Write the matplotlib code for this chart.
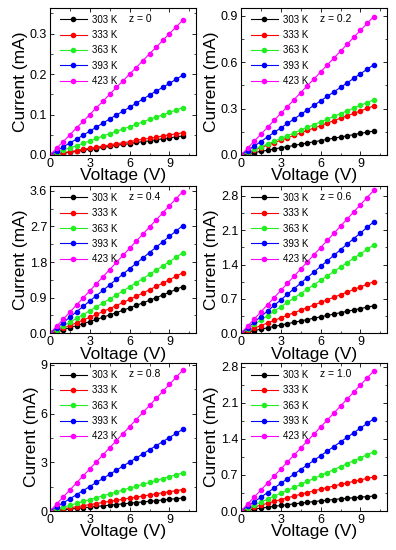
import matplotlib
matplotlib.use("Agg")
from matplotlib import pyplot as plt
from matplotlib.ticker import MultipleLocator, FormatStrFormatter

plt.rcParams['font.family'] = ['Liberation Sans', 'DejaVu Sans']

voltage = [0, 0.5, 1, 1.5, 2, 2.5, 3, 3.5, 4, 4.5, 5, 5.5, 6, 6.5, 7, 7.5, 8, 8.5, 9, 9.5, 10]
temps = ["303 K", "333 K", "363 K", "393 K", "423 K"]
colors = ["black", "red", "#22ee22", "blue", "magenta"]

# z = 0
z00 = [
    [0, .002, .005, .007, .009, .012, .014, .016, .019, .021, .024, .026, .028, .031, .033, .035, .038, .040, .042, .045, .047],
    [0, .003, .006, .008, .011, .014, .017, .019, .022, .025, .028, .030, .033, .036, .039, .041, .044, .047, .050, .052, .055],
    [0, .006, .012, .018, .023, .029, .035, .041, .047, .053, .059, .064, .070, .076, .082, .088, .094, .099, .105, .111, .117],
    [0, .010, .020, .030, .039, .049, .059, .069, .079, .089, .099, .108, .118, .128, .138, .148, .158, .167, .177, .187, .197],
    [0, .017, .033, .050, .067, .083, .100, .117, .133, .150, .167, .183, .200, .216, .233, .250, .266, .283, .300, .316, .333],
]
# z = 0.2
z02 = [
    [0, .008, .016, .023, .031, .039, .047, .054, .062, .070, .078, .085, .093, .101, .109, .116, .124, .132, .140, .147, .155],
    [0, .016, .032, .048, .063, .079, .095, .111, .127, .143, .159, .174, .190, .206, .222, .238, .254, .269, .285, .301, .317],
    [0, .018, .036, .054, .071, .089, .107, .125, .143, .161, .179, .196, .214, .232, .250, .268, .286, .303, .321, .339, .357],
    [0, .029, .058, .087, .117, .146, .175, .204, .233, .262, .292, .321, .350, .379, .408, .437, .466, .496, .525, .554, .583],
    [0, .045, .090, .134, .179, .224, .269, .313, .358, .403, .448, .492, .537, .582, .627, .671, .716, .761, .806, .850, .895],
]
# z = 0.4
z04 = [
    [0, .046, .093, .142, .192, .244, .297, .351, .407, .464, .522, .582, .643, .705, .769, .834, .900, .968, 1.037, 1.108, 1.18],
    [0, .064, .130, .197, .265, .335, .405, .477, .551, .625, .701, .778, .857, .936, 1.017, 1.100, 1.183, 1.268, 1.354, 1.441, 1.53],
    [0, .093, .186, .281, .377, .473, .570, .669, .768, .868, .969, 1.071, 1.174, 1.278, 1.382, 1.488, 1.595, 1.702, 1.810, 1.920, 2.03],
    [0, .136, .272, .408, .544, .680, .816, .952, 1.088, 1.224, 1.360, 1.496, 1.632, 1.768, 1.904, 2.040, 2.176, 2.312, 2.448, 2.584, 2.72],
    [0, .179, .358, .537, .716, .895, 1.074, 1.253, 1.432, 1.611, 1.790, 1.969, 2.148, 2.327, 2.506, 2.685, 2.864, 3.043, 3.222, 3.401, 3.58],
]
# z = 0.6
z06 = [
    [0, .028, .056, .084, .112, .140, .168, .196, .224, .252, .280, .308, .336, .364, .392, .420, .448, .476, .504, .532, .56],
    [0, .053, .105, .158, .210, .263, .315, .368, .420, .473, .525, .578, .630, .683, .735, .788, .840, .893, .945, .998, 1.05],
    [0, .09, .18, .27, .36, .45, .54, .63, .72, .81, .90, .99, 1.08, 1.17, 1.26, 1.35, 1.44, 1.53, 1.62, 1.71, 1.80],
    [0, .114, .227, .341, .454, .568, .681, .795, .908, 1.022, 1.135, 1.249, 1.362, 1.476, 1.589, 1.703, 1.816, 1.930, 2.043, 2.157, 2.27],
    [0, .146, .291, .437, .582, .728, .873, 1.019, 1.164, 1.310, 1.455, 1.601, 1.746, 1.892, 2.037, 2.183, 2.328, 2.474, 2.619, 2.765, 2.91],
]
# z = 0.8
z08 = [
    [0, .04, .08, .12, .16, .20, .24, .28, .32, .36, .40, .44, .48, .52, .56, .60, .64, .68, .72, .76, .80],
    [0, .066, .132, .198, .264, .330, .396, .462, .528, .594, .660, .726, .792, .858, .924, .990, 1.056, 1.122, 1.188, 1.254, 1.32],
    [0, .118, .235, .353, .470, .588, .705, .823, .940, 1.058, 1.175, 1.293, 1.410, 1.528, 1.645, 1.763, 1.880, 1.998, 2.115, 2.233, 2.35],
    [0, .252, .503, .755, 1.006, 1.258, 1.509, 1.761, 2.012, 2.264, 2.515, 2.767, 3.018, 3.270, 3.521, 3.773, 4.024, 4.276, 4.527, 4.779, 5.03],
    [0, .434, .867, 1.301, 1.734, 2.168, 2.601, 3.035, 3.468, 3.902, 4.335, 4.769, 5.202, 5.636, 6.069, 6.503, 6.936, 7.370, 7.803, 8.237, 8.67],
]
# z = 1.0
z10 = [
    [0, .019, .038, .056, .073, .091, .107, .123, .139, .154, .169, .183, .197, .210, .223, .236, .247, .259, .270, .280, .29],
    [0, .039, .076, .114, .151, .187, .222, .257, .292, .326, .359, .392, .424, .455, .486, .517, .547, .576, .605, .633, .66],
    [0, .058, .115, .173, .230, .288, .345, .403, .460, .518, .575, .633, .690, .748, .805, .863, .920, .978, 1.035, 1.093, 1.15],
    [0, .090, .179, .269, .358, .448, .537, .627, .716, .806, .895, .985, 1.074, 1.164, 1.253, 1.343, 1.432, 1.522, 1.611, 1.701, 1.79],
    [0, .136, .272, .408, .544, .680, .816, .952, 1.088, 1.224, 1.360, 1.496, 1.632, 1.768, 1.904, 2.040, 2.176, 2.312, 2.448, 2.584, 2.72],
]

panels = [
    ("z = 0", z00, 0.363, 0.1, "%.1f"),
    ("z = 0.2", z02, 0.95, 0.3, "%.1f"),
    ("z = 0.4", z04, 3.72, 0.9, "%.1f"),
    ("z = 0.6", z06, 3.0, 0.7, "%.1f"),
    ("z = 0.8", z08, 9.1, 3, "%d"),
    ("z = 1.0", z10, 2.87, 0.7, "%.1f"),
]

W, H = 396, 550
fig = plt.figure(figsize=(W / 100, H / 100), dpi=100)
lefts = [50, 241]
rows = [(8, 155), (186, 333.3), (363.3, 511)]

for i, (ztxt, data, ymax, step, fmt) in enumerate(panels):
    col, row = i % 2, i // 2
    top, bot = rows[row]
    ax = fig.add_axes([lefts[col] / W, 1 - bot / H, 146 / W, (bot - top) / H])
    for k in range(5):
        ax.plot(voltage, data[k], color=colors[k], marker="o", ms=3.0, lw=0.8,
                label=temps[k])
    ax.set_xlim(0, 11)
    ax.set_ylim(0, ymax)
    ax.xaxis.set_major_locator(MultipleLocator(3))
    ax.xaxis.set_minor_locator(MultipleLocator(1.5))
    ax.yaxis.set_major_locator(MultipleLocator(step))
    ax.yaxis.set_minor_locator(MultipleLocator(step / 2))
    ax.yaxis.set_major_formatter(FormatStrFormatter(fmt))
    ax.tick_params(which="both", direction="in", top=True, right=True, labelsize=9, pad=2)
    ax.tick_params(which="major", length=3, width=0.6)
    ax.tick_params(which="minor", length=1.8, width=0.5)
    for s in ax.spines.values():
        s.set_linewidth(0.8)
    ax.set_xlabel("Voltage (V)", fontsize=12.5, labelpad=-1)
    ax.set_ylabel("Current (mA)", fontsize=12.5, labelpad=1)
    ax.legend(loc="upper left", frameon=False, fontsize=7, handlelength=2.8,
              handletextpad=0.5, labelspacing=0.55, borderaxespad=0.3,
              bbox_to_anchor=(0.02, 1.0))
    ax.text(0.54, 0.905, ztxt, transform=ax.transAxes, fontsize=7.5)

fig.savefig("out.png", dpi=100)
